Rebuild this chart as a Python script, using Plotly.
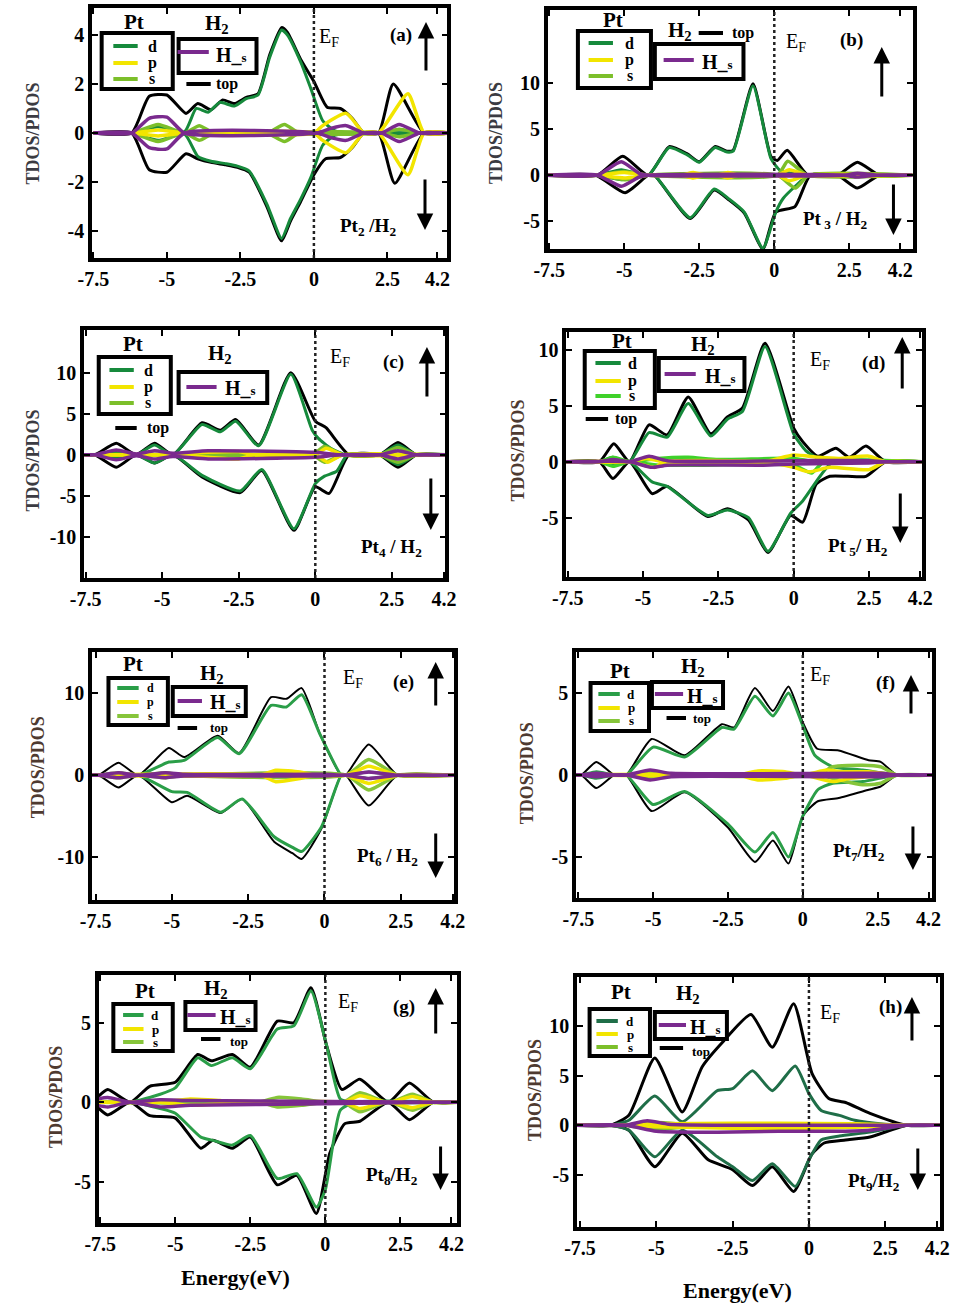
import plotly.graph_objects as go

W, H = 959, 1310
FONT = "Liberation Serif"

# ---------------- data: [energy (eV), DOS] knots ----------------
# panel (a) Pt2/H2
a_top_up = [[-7.5,0],[-6.2,0],[-5.6,1.5],[-5.0,1.55],[-4.35,0.8],[-3.95,1.2],[-3.5,0.95],[-3.1,1.35],[-2.7,1.2],[-2.3,1.45],[-1.9,1.6],[-1.5,3.2],[-1.1,4.3],[-0.9,4.1],[-0.45,3.0],[0.0,2.1],[0.45,1.05],[0.9,1.0],[1.3,0.6],[1.7,0],[2.2,0],[2.7,2.0],[3.75,0],[4.6,0]]
a_top_dn = [[-7.5,0],[-6.2,0],[-5.6,-1.5],[-5.0,-1.6],[-4.35,-0.85],[-3.95,-1.05],[-3.5,-1.2],[-3.0,-1.3],[-2.6,-1.4],[-2.2,-1.6],[-1.6,-3.0],[-1.1,-4.4],[-0.8,-3.6],[-0.45,-2.8],[0.0,-1.7],[0.4,-1.05],[0.9,-1.0],[1.3,-0.6],[1.7,0],[2.2,0],[2.75,-2.05],[3.75,0],[4.6,0]]
a_d_up = [[-7.5,0],[-6.2,0],[-5.3,0.25],[-4.4,0.05],[-4.0,1.0],[-3.6,0.85],[-3.2,1.25],[-2.7,1.1],[-2.3,1.4],[-1.9,1.55],[-1.5,3.1],[-1.1,4.2],[-0.9,4.0],[-0.45,2.9],[-0.1,1.8],[0.3,0.5],[0.7,0.1],[1.2,0],[4.6,0]]
a_d_dn = [[-7.5,0],[-6.2,0],[-5.3,-0.3],[-4.4,-0.05],[-3.95,-0.95],[-3.5,-1.15],[-3.0,-1.25],[-2.6,-1.35],[-2.2,-1.55],[-1.6,-2.9],[-1.1,-4.3],[-0.8,-3.5],[-0.45,-2.7],[-0.1,-1.8],[0.3,-0.5],[0.7,-0.1],[1.2,0],[4.6,0]]
a_p_up = [[-7.5,0],[-6.2,0],[-5.3,0.12],[-4.4,0],[0.0,0],[0.3,0.3],[1.1,0.8],[1.7,0],[2.2,0],[3.2,1.6],[3.75,0],[4.6,0]]
a_p_dn = [[-7.5,0],[-6.2,0],[-5.3,-0.12],[-4.4,0],[0.0,0],[0.3,-0.3],[1.1,-0.8],[1.7,0],[2.2,0],[3.2,-1.7],[3.75,0],[4.6,0]]
a_s_up = [[-7.5,0],[-6.2,0],[-5.3,0.35],[-4.4,0],[-3.9,0.3],[-3.4,0],[-1.6,0],[-1.0,0.35],[-0.5,0],[2.3,0],[2.9,0.15],[3.6,0],[4.6,0]]
a_s_dn = [[-7.5,0],[-6.2,0],[-5.3,-0.35],[-4.4,0],[-3.9,-0.3],[-3.4,0],[-1.6,0],[-1.0,-0.35],[-0.5,0],[2.3,0],[2.9,-0.15],[3.6,0],[4.6,0]]
a_h_up = [[-7.5,0],[-6.2,0],[-5.6,0.6],[-5.0,0.65],[-4.4,0],[0.1,0],[0.6,0.2],[1.1,0.3],[1.7,0],[2.3,0],[2.9,0.35],[3.6,0],[4.6,0]]
a_h_dn = [[-7.5,0],[-6.2,0],[-5.6,-0.6],[-5.0,-0.65],[-4.4,0],[0.1,0],[0.6,-0.2],[1.1,-0.3],[1.7,0],[2.3,0],[2.9,-0.35],[3.6,0],[4.6,0]]

# panel (b) Pt3/H2
b_top_up = [[-7.6,0],[-5.9,0],[-5.05,2.05],[-4.2,0],[-3.5,3.1],[-2.9,2.3],[-2.5,1.45],[-1.97,3.1],[-1.58,2.6],[-1.37,2.7],[-0.71,9.9],[-0.11,2.0],[0.1,1.6],[0.43,2.7],[1.12,0],[2.1,0],[2.77,1.4],[3.5,0],[4.6,0]]
b_top_dn = [[-7.6,0],[-5.95,0],[-4.97,-1.9],[-4.2,0],[-4.0,0],[-2.8,-4.7],[-2.0,-1.6],[-1.5,-2.7],[-1.0,-4.1],[-0.38,-8.0],[0.05,-4.0],[0.69,-3.4],[1.2,0],[2.1,0],[2.77,-1.4],[3.5,0],[4.6,0]]
b_d_up = [[-7.6,0],[-5.9,0],[-5.1,0.6],[-4.2,0],[-3.5,3.0],[-2.9,2.2],[-2.5,1.4],[-1.97,3.0],[-1.58,2.5],[-1.37,2.6],[-0.71,9.7],[-0.11,1.8],[0.2,0.5],[0.6,0.2],[1.1,0],[4.6,0]]
b_d_dn = [[-7.6,0],[-5.9,0],[-5.1,-0.5],[-4.2,0],[-4.0,0],[-2.8,-4.6],[-2.0,-1.5],[-1.5,-2.6],[-1.0,-4.0],[-0.38,-7.9],[0.05,-4.0],[0.3,-2.5],[0.7,-1.2],[1.15,0],[4.6,0]]
b_p_up = [[-7.6,0],[-5.9,0],[-5.0,0.3],[-4.2,0],[-3.1,0],[-2.7,0.3],[-2.3,0],[-1.9,0],[-1.55,0.3],[-1.2,0],[0.1,0],[0.5,0.6],[1.1,0],[4.6,0]]
b_p_dn = [[-7.6,0],[-5.9,0],[-5.0,-0.3],[-4.2,0],[-3.1,0],[-2.7,-0.3],[-2.3,0],[-1.9,0],[-1.55,-0.3],[-1.2,0],[0.1,0],[0.5,-0.6],[1.1,0],[4.6,0]]
b_s_up = [[-7.6,0],[-5.9,0],[-5.0,0.4],[-4.2,0],[0.1,0],[0.45,1.5],[1.1,0],[4.6,0]]
b_s_dn = [[-7.6,0],[-5.9,0],[-5.0,-0.5],[-4.2,0],[0.1,0],[0.7,-1.4],[1.15,0],[4.6,0]]
b_h_up = [[-7.6,0],[-5.9,0],[-5.1,1.45],[-4.5,0.2],[-4.2,0],[2.3,0],[2.77,0.2],[3.4,0],[4.6,0]]
b_h_dn = [[-7.6,0],[-5.9,0],[-5.1,-1.2],[-4.5,-0.2],[-4.2,0],[2.3,0],[2.77,-0.2],[3.4,0],[4.6,0]]

# panel (c) Pt4/H2
c_top_up = [[-7.6,0],[-7.2,0],[-6.5,1.4],[-5.85,0],[-5.25,1.4],[-4.65,0],[-3.7,3.9],[-3.1,3.0],[-2.6,4.3],[-1.85,1.2],[-0.8,10.0],[0.0,4.1],[0.35,3.3],[1.1,0],[2.1,0],[2.7,1.5],[3.3,0],[4.3,0]]
c_top_dn = [[-7.6,0],[-7.2,0],[-6.5,-1.5],[-5.85,0],[-5.25,-1.0],[-4.65,0],[-3.7,-2.7],[-2.45,-4.6],[-1.75,-1.9],[-0.7,-9.2],[0.0,-3.9],[0.45,-4.7],[1.1,0],[2.1,0],[2.7,-1.5],[3.3,0],[4.3,0]]
c_d_up = [[-7.6,0],[-7.2,0],[-6.5,0.3],[-5.85,0],[-5.25,1.2],[-4.65,0],[-3.7,3.7],[-3.1,2.8],[-2.6,4.1],[-1.85,1.1],[-0.8,9.8],[-0.1,3.0],[0.1,2.0],[0.5,0.8],[1.0,0],[2.1,0],[2.7,1.2],[3.3,0],[4.3,0]]
c_d_dn = [[-7.6,0],[-7.2,0],[-6.5,-0.3],[-5.85,0],[-5.25,-1.0],[-4.65,0],[-3.7,-2.5],[-2.45,-4.4],[-1.75,-1.8],[-0.7,-9.0],[0.0,-3.5],[0.3,-2.6],[0.7,-2.0],[1.05,0],[2.1,0],[2.7,-1.2],[3.3,0],[4.3,0]]
c_p_up = [[-7.6,0],[-4.6,0],[-3.5,0.3],[-2.5,0.4],[-2.0,0],[0.0,0],[0.35,0.8],[0.9,0],[4.3,0]]
c_p_dn = [[-7.6,0],[-4.6,0],[-3.5,-0.3],[-2.5,-0.5],[-2.0,0],[0.0,0],[0.4,-0.9],[0.9,0],[4.3,0]]
c_s_up = [[-7.6,0],[-1.5,0],[-0.8,0.3],[-0.1,0],[0.3,1.0],[0.9,0],[2.1,0],[2.7,0.9],[3.3,0],[4.3,0]]
c_s_dn = [[-7.6,0],[-1.5,0],[-0.8,-0.3],[-0.1,0],[0.3,-0.9],[0.9,0],[2.1,0],[2.7,-0.9],[3.3,0],[4.3,0]]
c_h_up = [[-7.6,0],[-7.2,0],[-6.5,0.6],[-5.85,0.1],[-5.25,0.5],[-4.65,0.2],[-3.5,0.5],[-1.0,0.4],[0.0,0.3],[0.8,0],[2.1,0],[2.7,0.5],[3.3,0],[4.3,0]]
c_h_dn = [[-7.6,0],[-7.2,0],[-6.5,-0.6],[-5.85,-0.1],[-5.25,-0.5],[-4.65,-0.2],[-3.5,-0.5],[-1.0,-0.4],[0.0,-0.3],[0.8,0],[2.1,0],[2.7,-0.5],[3.3,0],[4.3,0]]

# panel (d) Pt5/H2
d_top_up = [[-7.6,0],[-6.45,0],[-5.97,1.6],[-5.45,0],[-4.8,3.3],[-4.2,2.4],[-3.5,5.8],[-2.75,2.5],[-2.2,4.0],[-1.7,4.8],[-0.95,10.6],[0.0,3.0],[0.3,1.8],[0.8,0.5],[1.4,1.2],[1.85,0.4],[2.4,1.4],[3.05,0],[4.3,0]]
d_top_dn = [[-7.6,0],[-6.45,0],[-6.0,-1.5],[-5.45,0],[-4.7,-2.85],[-4.2,-2.2],[-2.85,-4.9],[-2.2,-4.2],[-1.5,-5.2],[-0.85,-8.1],[-0.1,-4.8],[0.3,-5.4],[0.75,-2.0],[1.2,-1.3],[1.8,-1.3],[2.4,-1.3],[3.05,0],[4.3,0]]
d_d_up = [[-7.6,0],[-6.45,0],[-6.0,0.4],[-5.45,0],[-4.8,2.6],[-4.2,2.2],[-3.5,5.2],[-2.75,2.3],[-2.2,3.8],[-1.7,4.5],[-0.95,10.3],[0.0,2.5],[0.4,1.0],[0.9,0.2],[1.5,0],[4.3,0]]
d_d_dn = [[-7.6,0],[-6.45,0],[-6.0,-0.3],[-5.45,0],[-4.7,-1.8],[-4.2,-2.2],[-2.85,-4.8],[-2.2,-4.3],[-1.5,-5.0],[-0.85,-8.0],[-0.1,-4.6],[0.3,-3.5],[0.9,-1.2],[1.3,0],[4.3,0]]
d_p_up = [[-7.6,0],[-5.45,0],[-4.9,0.3],[-4.3,0],[-1.0,0],[0.0,0.6],[0.8,0.4],[1.5,0.3],[2.5,0.5],[3.05,0],[4.3,0]]
d_p_dn = [[-7.6,0],[-5.45,0],[-4.6,-0.5],[-4.3,0],[-1.0,0],[0.0,-0.5],[0.5,-0.9],[1.2,-0.5],[2.5,-0.7],[3.05,0],[4.3,0]]
d_s_up = [[-7.6,0],[-6.45,0],[-6.0,0.4],[-5.45,0],[-4.5,0.3],[-3.5,0.4],[-2.5,0.2],[0.0,0.3],[0.7,0],[4.3,0]]
d_s_dn = [[-7.6,0],[-6.45,0],[-6.0,-0.4],[-5.45,0],[-4.5,-0.3],[-3.0,-0.3],[0.0,-0.3],[0.6,-1.0],[1.0,0],[4.3,0]]
d_h_up = [[-7.6,0],[-6.45,0],[-6.0,0.2],[-5.45,0],[-4.8,0.5],[-4.2,0.1],[0.0,0.1],[2.5,0.1],[3.05,0],[4.3,0]]
d_h_dn = [[-7.6,0],[-5.45,0],[-4.7,-0.5],[-4.2,-0.3],[-1.0,-0.3],[0.0,-0.2],[2.5,-0.1],[3.05,0],[4.3,0]]

# panel (e) Pt6/H2
e_top_up = [[-7.7,0],[-7.4,0],[-6.75,1.5],[-6.1,0],[-5.1,3.3],[-4.6,2.2],[-3.5,4.8],[-2.8,2.7],[-1.75,9.5],[-1.25,9.3],[-0.75,10.6],[-0.15,5.0],[0.55,0],[0.7,0],[1.45,3.75],[2.4,0],[4.3,0]]
e_top_dn = [[-7.7,0],[-7.4,0],[-6.75,-1.5],[-6.1,0],[-5.0,-3.3],[-4.5,-2.5],[-3.4,-4.6],[-2.7,-2.9],[-1.65,-8.1],[-1.05,-9.5],[-0.75,-10.2],[-0.1,-6.5],[0.55,0],[0.7,0],[1.45,-3.7],[2.4,0],[4.3,0]]
e_d_up = [[-7.7,0],[-6.1,0],[-5.1,1.6],[-4.6,1.8],[-3.5,4.6],[-2.8,2.6],[-1.75,8.5],[-1.25,8.3],[-0.75,9.8],[-0.15,5.0],[0.55,0],[0.7,0],[1.45,0.4],[2.4,0],[4.3,0]]
e_d_dn = [[-7.7,0],[-6.1,0],[-5.0,-2.0],[-4.5,-2.1],[-3.4,-4.5],[-2.7,-2.9],[-1.65,-7.5],[-1.05,-8.8],[-0.75,-9.3],[-0.1,-6.3],[0.55,0],[0.7,0],[1.45,-0.4],[2.4,0],[4.3,0]]
e_p_up = [[-7.7,0],[-2.1,0],[-1.6,0.6],[-0.8,0.4],[-0.3,0],[0.7,0],[1.45,1.1],[2.4,0],[4.3,0]]
e_p_dn = [[-7.7,0],[-2.1,0],[-1.6,-0.8],[-0.8,-0.4],[-0.3,0],[0.7,0],[1.45,-1.0],[2.4,0],[4.3,0]]
e_s_up = [[-7.7,0],[-7.4,0],[-6.75,0.3],[-6.1,0],[-5.2,0.3],[-4.6,0],[0.7,0],[1.45,1.9],[2.4,0],[4.3,0]]
e_s_dn = [[-7.7,0],[-7.4,0],[-6.75,-0.3],[-6.1,0],[-5.2,-0.3],[-4.6,0],[0.7,0],[1.45,-1.8],[2.4,0],[4.3,0]]
e_h_up = [[-7.7,0],[-7.4,0],[-6.75,0.3],[-6.1,0],[-5.2,0.3],[-4.6,0.1],[0.0,0.1],[0.7,0],[1.45,0.4],[2.4,0],[4.3,0]]
e_h_dn = [[-7.7,0],[-7.4,0],[-6.75,-0.3],[-6.1,0],[-5.2,-0.3],[-4.6,-0.1],[0.0,-0.1],[0.7,0],[1.45,-0.4],[2.4,0],[4.3,0]]

# panel (f) Pt7/H2
f_top_up = [[-7.65,0],[-7.4,0],[-6.9,0.8],[-6.3,0],[-5.9,0],[-5.05,2.2],[-3.95,1.2],[-2.7,3.1],[-2.3,2.9],[-1.6,5.3],[-1.0,3.9],[-0.48,5.4],[0.0,3.2],[0.48,1.6],[1.2,1.5],[2.2,0.9],[2.6,0.8],[3.15,0],[4.4,0]]
f_top_dn = [[-7.65,0],[-7.4,0],[-6.9,-0.8],[-6.3,0],[-5.9,0],[-5.05,-2.2],[-3.95,-1.05],[-2.5,-3.2],[-1.6,-5.3],[-1.0,-4.0],[-0.48,-5.4],[0.0,-2.5],[0.5,-1.6],[1.2,-1.4],[2.2,-0.9],[2.6,-0.7],[3.15,0],[4.4,0]]
f_d_up = [[-7.65,0],[-7.4,0],[-6.9,0.2],[-6.3,0],[-5.9,0],[-5.0,1.7],[-3.95,1.1],[-2.7,2.9],[-2.3,2.8],[-1.6,4.8],[-1.0,3.6],[-0.48,5.0],[0.0,3.0],[0.4,1.2],[1.0,0.5],[2.0,0.3],[3.15,0],[4.4,0]]
f_d_dn = [[-7.65,0],[-7.4,0],[-6.9,-0.2],[-6.3,0],[-5.9,0],[-5.0,-1.8],[-3.95,-1.0],[-2.5,-3.0],[-1.6,-4.7],[-1.0,-3.5],[-0.48,-5.0],[0.0,-2.5],[0.5,-0.9],[1.0,-0.5],[2.0,-0.4],[3.15,0],[4.4,0]]
f_p_up = [[-7.65,0],[-2.2,0],[-1.5,0.25],[-0.6,0.2],[0.0,0],[0.8,0.3],[1.3,0.2],[2.2,0.2],[3.15,0],[4.4,0]]
f_p_dn = [[-7.65,0],[-2.2,0],[-1.5,-0.3],[-0.6,-0.2],[0.0,0],[1.0,-0.4],[1.6,-0.2],[3.15,0],[4.4,0]]
f_s_up = [[-7.65,0],[-5.8,0],[-5.1,0.2],[-4.3,0],[0.5,0],[1.0,0.5],[2.0,0.6],[2.6,0.5],[3.15,0],[4.4,0]]
f_s_dn = [[-7.65,0],[-5.8,0],[-5.1,-0.2],[-4.3,0],[0.5,0],[1.2,-0.3],[2.0,-0.6],[2.6,-0.5],[3.15,0],[4.4,0]]
f_h_up = [[-7.65,0],[-7.4,0],[-6.9,0.1],[-6.3,0],[-5.9,0],[-5.1,0.3],[-4.4,0.1],[2.6,0.1],[3.15,0],[4.4,0]]
f_h_dn = [[-7.65,0],[-7.4,0],[-6.9,-0.1],[-6.3,0],[-5.9,0],[-5.1,-0.3],[-4.4,-0.1],[2.6,-0.1],[3.15,0],[4.4,0]]

# panel (g) Pt8/H2
g_top_up = [[-7.6,0.3],[-7.25,0.8],[-6.5,0],[-5.85,1.0],[-5.0,1.25],[-4.25,3.0],[-3.8,2.6],[-3.1,3.0],[-2.5,2.2],[-1.6,5.1],[-1.05,5.0],[-0.48,7.2],[0.05,3.5],[0.55,0.8],[1.15,1.45],[2.1,0],[2.8,1.2],[3.6,0],[4.45,0]]
g_top_dn = [[-7.6,-0.3],[-7.25,-0.8],[-6.5,0],[-5.85,-0.85],[-5.0,-1.0],[-4.15,-2.9],[-3.75,-2.4],[-3.1,-2.9],[-2.5,-2.2],[-1.6,-5.2],[-0.95,-4.6],[-0.3,-7.0],[0.15,-3.2],[0.65,-1.35],[1.15,-1.2],[2.1,0],[2.8,-1.1],[3.6,0],[4.45,0]]
g_d_up = [[-7.6,0],[-6.5,0],[-5.5,0.5],[-5.0,0.9],[-4.25,2.8],[-3.8,2.3],[-3.1,2.8],[-2.5,2.1],[-1.6,4.6],[-1.05,4.8],[-0.48,7.0],[0.05,3.5],[0.5,0.2],[1.0,0],[4.45,0]]
g_d_dn = [[-7.6,0],[-6.5,0],[-5.5,-0.4],[-5.0,-0.7],[-4.15,-2.2],[-3.75,-2.4],[-3.1,-2.7],[-2.5,-2.1],[-1.6,-4.8],[-0.95,-4.5],[-0.3,-6.6],[0.0,-5.5],[0.5,-0.5],[1.0,0],[4.45,0]]
g_p_up = [[-7.6,0],[-5.5,0],[-4.5,0.2],[-3.5,0.1],[0.6,0],[1.15,0.4],[2.0,0],[2.2,0],[2.9,0.35],[3.6,0],[4.45,0]]
g_p_dn = [[-7.6,0],[-5.5,0],[-4.5,-0.2],[-3.5,-0.1],[0.6,0],[1.15,-0.4],[2.0,0],[2.2,0],[2.9,-0.35],[3.6,0],[4.45,0]]
g_s_up = [[-7.6,0],[-2.2,0],[-1.6,0.3],[-0.8,0.2],[0.0,0],[0.6,0],[1.15,0.6],[2.0,0],[2.2,0],[2.9,0.5],[3.6,0],[4.45,0]]
g_s_dn = [[-7.6,0],[-2.2,0],[-1.6,-0.3],[-0.8,-0.2],[0.0,0],[0.6,0],[1.15,-0.6],[2.0,0],[2.2,0],[2.9,-0.5],[3.6,0],[4.45,0]]
g_h_up = [[-7.6,0.2],[-7.25,0.3],[-6.5,0],[-5.5,0.15],[-4.5,0.1],[0.0,0.05],[3.6,0],[4.45,0]]
g_h_dn = [[-7.6,-0.2],[-7.25,-0.3],[-6.5,0],[-5.5,-0.3],[-4.5,-0.2],[0.0,-0.1],[3.6,0],[4.45,0]]

# panel (h) Pt9/H2
h_top_up = [[-7.65,0],[-6.5,0],[-5.9,1.0],[-5.05,6.8],[-4.15,1.35],[-3.5,5.9],[-2.8,8.5],[-1.9,11.2],[-1.2,7.9],[-0.5,12.3],[0.1,5.25],[0.65,2.7],[1.2,2.3],[2.0,1.2],[3.2,0],[4.4,0]]
h_top_dn = [[-7.65,0],[-6.5,0],[-5.9,-0.5],[-5.05,-4.2],[-4.15,-0.8],[-3.3,-3.5],[-2.5,-4.5],[-1.85,-6.1],[-1.2,-4.2],[-0.5,-6.7],[0.1,-2.9],[0.5,-1.8],[1.2,-1.5],[2.0,-1.2],[3.2,0],[4.4,0]]
h_d_up = [[-7.65,0],[-6.5,0],[-5.9,0.5],[-5.05,2.95],[-4.15,0.35],[-3.0,3.5],[-2.5,3.7],[-1.85,5.5],[-1.2,3.5],[-0.45,6.0],[0.0,3.2],[0.4,1.5],[1.0,1.0],[1.5,0.5],[2.5,0.1],[3.2,0],[4.4,0]]
h_d_dn = [[-7.65,0],[-6.5,0],[-5.9,-0.5],[-5.05,-3.2],[-4.15,-0.5],[-3.0,-3.2],[-2.5,-4.2],[-1.85,-5.6],[-1.2,-3.9],[-0.45,-6.2],[0.0,-3.5],[0.4,-1.5],[1.0,-1.1],[2.0,-0.7],[3.2,0],[4.4,0]]
h_p_up = [[-7.65,0],[-6.0,0],[-5.0,0.15],[-2.5,0.2],[-1.0,0.2],[1.5,0.15],[3.2,0],[4.4,0]]
h_p_dn = [[-7.65,0],[-6.0,0],[-5.0,-0.15],[-2.5,-0.3],[0.0,-0.3],[1.5,-0.2],[3.2,0],[4.4,0]]
h_s_up = [[-7.65,0],[-6.0,0],[-5.2,0.3],[-4.0,0.1],[3.2,0],[4.4,0]]
h_s_dn = [[-7.65,0],[-6.0,0],[-5.2,-0.4],[-4.0,-0.2],[3.2,0],[4.4,0]]
h_h_up = [[-7.65,0],[-6.0,0],[-5.3,0.45],[-4.6,0.1],[-3.0,0.0],[3.2,0],[4.4,0]]
h_h_dn = [[-7.65,0],[-6.0,0],[-5.0,-0.6],[-3.0,-0.7],[-1.0,-0.6],[1.0,-0.6],[2.0,-0.5],[3.2,0],[4.4,0]]

X_TICKS = [-7.5, -5, -2.5, 0, 2.5, 4.2]
X_TICK_TEXT = ["-7.5", "-5", "-2.5", "0", "2.5", "4.2"]
Y_TICKS_A = [-4, -2, 0, 2, 4]
Y_TICKS_B = [-5, 0, 5, 10]
Y_TICKS_C = [-10, -5, 0, 5, 10]
Y_TICKS_D = [-5, 0, 5, 10]
Y_TICKS_E = [-10, 0, 10]
Y_TICKS_F = [-5, 0, 5]
Y_TICKS_G = [-5, 0, 5]
Y_TICKS_H = [-5, 0, 5, 10]

# ---------------- figure ----------------
fig = go.Figure()


def PX(x):
    return x / W


def PY(y):
    return 1 - y / H


def T(text, x, y, size=18, bold=True, color="black", angle=0, xanchor="center"):
    fig.add_annotation(text=text, x=PX(x), y=PY(y), xref="paper", yref="paper",
                       showarrow=False, xanchor=xanchor, yanchor="middle", textangle=angle,
                       font=dict(family=FONT, size=size, color=color,
                                 weight="bold" if bold else "normal"))


def LINE(x0, y0, x1, y1, color="black", width=3, dash="solid"):
    fig.add_shape(type="line", xref="paper", yref="paper", x0=PX(x0), y0=PY(y0),
                  x1=PX(x1), y1=PY(y1), line=dict(color=color, width=width, dash=dash))


def BOX(x0, y0, x1, y1, width=4):
    fig.add_shape(type="rect", xref="paper", yref="paper", x0=PX(x0), y0=PY(y1),
                  x1=PX(x1), y1=PY(y0), line=dict(color="black", width=width),
                  fillcolor="rgba(0,0,0,0)")


def ARROW(x, yh, yt, width=3):
    fig.add_annotation(x=PX(x), y=PY(yh), xref="paper", yref="paper", text="",
                       showarrow=True, ax=0, ay=yt - yh, arrowhead=2, arrowsize=1.1,
                       arrowwidth=width, arrowcolor="black")


PURPLE = "#7a2a8e"
YELLOW = "#f2e500"

panels = [
    dict(L="a", frame=(80, 8, 445, 258), xr=[-7.55, 4.54], yr=[-5.1, 5.1], yt=Y_TICKS_A,
         series=[a_top_up, a_top_dn, a_d_up, a_d_dn, a_p_up, a_p_dn, a_s_up, a_s_dn, a_h_up, a_h_dn],
         dcol="#168a3c", scol="#7cbf2a", tw=3,
         pt=(123, 22), ptbox=(90, 33, 163, 89), lx=(102, 127), ly=(46, 63, 79), lblx=142, lsz=16,
         h2=(208, 24), hbox=(169, 39, 249, 73), hl=(168, 200, 52), hlbl=(223, 55),
         top=(177, 202, 84), toplbl=(219, 84),
         ef=(323, 38), lab=(397, 35), up=(423, 22, 72), dn=(422, 230, 178), sys=(363, 227),
         sysfmt="Pt<sub>2</sub> /H<sub>2</sub>", ytitle=(20, 133), ycol="#3b3b42"),
    dict(L="b", frame=(548, 10, 923, 249), xr=[-7.55, 4.62], yr=[-8.0, 17.9], yt=Y_TICKS_B,
         series=[b_top_up, b_top_dn, b_d_up, b_d_dn, b_p_up, b_p_dn, b_s_up, b_s_dn, b_h_up, b_h_dn],
         dcol="#168a3c", scol="#7cbf2a", tw=3,
         pt=(615, 20), ptbox=(579, 31, 654, 88), lx=(590, 615), ly=(43, 60, 76), lblx=632, lsz=16,
         h2=(684, 31), hbox=(658, 44, 749, 79), hl=(667, 698, 60), hlbl=(722, 62),
         top=(703, 728, 33), toplbl=(748, 33),
         ef=(803, 42), lab=(860, 40), up=(891, 47, 98), dn=(903, 235, 183), sys=(843, 220),
         sysfmt="Pt<sub> 3</sub> / H<sub>2</sub>", ytitle=(495, 133), ycol="#3b3b42"),
    dict(L="c", frame=(72, 330, 443, 578), xr=[-7.55, 4.25], yr=[-15.0, 15.2], yt=Y_TICKS_C,
         series=[c_top_up, c_top_dn, c_d_up, c_d_dn, c_p_up, c_p_dn, c_s_up, c_s_dn, c_h_up, c_h_dn],
         dcol="#168a3c", scol="#7cbf2a", tw=3,
         pt=(122, 344), ptbox=(87, 357, 161, 414), lx=(98, 123), ly=(370, 387, 403), lblx=138, lsz=16,
         h2=(212, 354), hbox=(169, 372, 260, 403), hl=(177, 208, 387), hlbl=(233, 388),
         top=(104, 126, 428), toplbl=(148, 428),
         ef=(335, 357), lab=(390, 362), up=(424, 347, 398), dn=(428, 530, 477), sys=(388, 548),
         sysfmt="Pt<sub>4</sub> / H<sub>2</sub>", ytitle=(20, 460), ycol="#3b3b42"),
    dict(L="d", frame=(567, 332, 932, 577), xr=[-7.55, 4.25], yr=[-10.3, 11.6], yt=Y_TICKS_D,
         series=[d_top_up, d_top_dn, d_d_up, d_d_dn, d_p_up, d_p_dn, d_s_up, d_s_dn, d_h_up, d_h_dn],
         dcol="#168a3c", scol="#3fd12a", tw=3,
         pt=(624, 341), ptbox=(586, 351, 658, 408), lx=(597, 623), ly=(363, 381, 396), lblx=635, lsz=16,
         h2=(707, 345), hbox=(662, 358, 750, 391), hl=(668, 700, 374), hlbl=(725, 376),
         top=(587, 610, 419), toplbl=(628, 419),
         ef=(828, 360), lab=(883, 363), up=(912, 337, 390), dn=(910, 543, 492), sys=(867, 547),
         sysfmt="Pt<sub> 5</sub>/ H<sub>2</sub>", ytitle=(518, 450), ycol="#4e3a30"),
    dict(L="e", frame=(80, 652, 452, 900), xr=[-7.62, 4.25], yr=[-15.2, 15.0], yt=Y_TICKS_E,
         series=[e_top_up, e_top_dn, e_d_up, e_d_dn, e_p_up, e_p_dn, e_s_up, e_s_dn, e_h_up, e_h_dn],
         dcol="#2a9e48", scol="#86c53a", tw=2,
         pt=(122, 664), ptbox=(97, 678, 158, 725), lx=(106, 128), ly=(688, 702, 716), lblx=140, lsz=12,
         h2=(203, 674), hbox=(163, 687, 238, 716), hl=(168, 193, 701), hlbl=(217, 702),
         top=(168, 188, 728), toplbl=(211, 727),
         ef=(348, 678), lab=(400, 682), up=(433, 662, 707), dn=(433, 878, 832), sys=(383, 857),
         sysfmt="Pt<sub>6</sub> / H<sub>2</sub>", ytitle=(25, 767), ycol="#4e3a30"),
    dict(L="f", frame=(577, 652, 943, 898), xr=[-7.58, 4.33], yr=[-7.5, 7.5], yt=Y_TICKS_F,
         series=[f_top_up, f_top_dn, f_d_up, f_d_dn, f_p_up, f_p_dn, f_s_up, f_s_dn, f_h_up, f_h_dn],
         dcol="#2a9e48", scol="#86c53a", tw=2,
         pt=(622, 671), ptbox=(592, 683, 652, 731), lx=(600, 622), ly=(694, 708, 721), lblx=634, lsz=13,
         h2=(697, 667), hbox=(655, 682, 728, 708), hl=(658, 687, 694), hlbl=(707, 696),
         top=(670, 690, 718), toplbl=(706, 718),
         ef=(828, 675), lab=(895, 683), up=(921, 675, 715), dn=(923, 870, 825), sys=(868, 852),
         sysfmt="Pt<sub>7</sub>/H<sub>2</sub>", ytitle=(527, 773), ycol="#4e3a30"),
    dict(L="g", frame=(87, 975, 455, 1223), xr=[-7.55, 4.39], yr=[-7.6, 8.0], yt=Y_TICKS_G,
         series=[g_top_up, g_top_dn, g_d_up, g_d_dn, g_p_up, g_p_dn, g_s_up, g_s_dn, g_h_up, g_h_dn],
         dcol="#2a9e48", scol="#86c53a", tw=3,
         pt=(135, 991), ptbox=(102, 1004, 163, 1051), lx=(112, 133), ly=(1015, 1029, 1042), lblx=145, lsz=13,
         h2=(207, 989), hbox=(176, 1002, 248, 1030), hl=(178, 207, 1015), hlbl=(227, 1017),
         top=(192, 212, 1039), toplbl=(231, 1041),
         ef=(343, 1002), lab=(400, 1007), up=(433, 988, 1035), dn=(438, 1190, 1145), sys=(388, 1176),
         sysfmt="Pt<sub>8</sub>/H<sub>2</sub>", ytitle=(43, 1097), ycol="#4e3a30"),
    dict(L="h", frame=(578, 977, 951, 1227), xr=[-7.6, 4.3], yr=[-10.3, 15.0], yt=Y_TICKS_H,
         series=[h_top_up, h_top_dn, h_d_up, h_d_dn, h_p_up, h_p_dn, h_s_up, h_s_dn, h_h_up, h_h_dn],
         dcol="#1f6e48", scol="#7cbf2a", tw=3,
         pt=(623, 992), ptbox=(591, 1009, 653, 1056), lx=(598, 620), ly=(1021, 1034, 1047), lblx=633, lsz=13,
         h2=(692, 994), hbox=(658, 1012, 732, 1039), hl=(662, 690, 1025), hlbl=(710, 1027),
         top=(663, 687, 1048), toplbl=(705, 1051),
         ef=(838, 1013), lab=(900, 1007), up=(922, 997, 1042), dn=(928, 1190, 1147), sys=(883, 1182),
         sysfmt="Pt<sub>9</sub>/H<sub>2</sub>", ytitle=(535, 1090), ycol="#4e3a30"),
]

layout_axes = {}
for i, p in enumerate(panels):
    k = "" if i == 0 else str(i + 1)
    x0, y0, x1, y1 = p["frame"]
    tick_font = dict(family=FONT, size=20, color="black", weight="bold")
    layout_axes["xaxis" + k] = dict(
        domain=[PX(x0), PX(x1)], range=p["xr"], anchor="y" + k,
        tickmode="array", tickvals=X_TICKS, ticktext=X_TICK_TEXT,
        ticks="inside", ticklen=6, tickwidth=2, tickcolor="black", mirror="allticks",
        showline=True, linewidth=3.5, linecolor="black", showgrid=False, zeroline=False,
        tickfont=tick_font, fixedrange=True)
    layout_axes["yaxis" + k] = dict(
        domain=[PY(y1), PY(y0)], range=p["yr"], anchor="x" + k,
        tickmode="array", tickvals=p["yt"], ticktext=[str(v) for v in p["yt"]],
        ticks="inside", ticklen=6, tickwidth=2, tickcolor="black", mirror="allticks",
        showline=True, linewidth=3.5, linecolor="black", showgrid=False, zeroline=False,
        tickfont=tick_font, fixedrange=True)

    top_up, top_dn, d_up, d_dn, p_up, p_dn, s_up, s_dn, h_up, h_dn = p["series"]
    styles = [
        (top_up, "black", p["tw"]), (top_dn, "black", p["tw"]),
        (d_up, p["dcol"], 3), (d_dn, p["dcol"], 3),
        (s_up, p["scol"], 3.5), (s_dn, p["scol"], 3.5),
        (p_up, YELLOW, 3.5), (p_dn, YELLOW, 3.5),
        (h_up, PURPLE, 3.5), (h_dn, PURPLE, 3.5),
    ]
    for pts, col, wd in styles:
        fig.add_trace(go.Scatter(
            x=[q[0] for q in pts], y=[q[1] for q in pts], mode="lines",
            line=dict(color=col, width=wd, shape="spline", smoothing=0.55),
            xaxis="x" + k, yaxis="y" + k, showlegend=False, hoverinfo="skip"))

    # Fermi level
    fig.add_shape(type="line", xref="x" + k, yref="y" + k + " domain", x0=0, x1=0, y0=0, y1=1,
                  line=dict(color="#222", width=2.5, dash="dot"))

    # legend blocks
    T("Pt", p["pt"][0], p["pt"][1], size=21)
    BOX(*p["ptbox"])
    lx0, lx1 = p["lx"]
    for yy, col, lab in zip(p["ly"], [p["dcol"], YELLOW, p["scol"]], ["d", "p", "s"]):
        LINE(lx0, yy, lx1, yy, color=col, width=4)
        T(lab, p["lblx"], yy, size=p["lsz"])
    T("H<sub>2</sub>", p["h2"][0], p["h2"][1], size=21)
    BOX(*p["hbox"])
    LINE(p["hl"][0], p["hl"][2], p["hl"][1], p["hl"][2], color=PURPLE, width=4)
    T("H_<span style='font-size:13px'>s</span>", p["hlbl"][0], p["hlbl"][1], size=20)
    LINE(p["top"][0], p["top"][2], p["top"][1], p["top"][2], color="black", width=4)
    T("top", p["toplbl"][0], p["toplbl"][1], size=max(p["lsz"], 13))

    # panel texts
    T("E<sub>F</sub>", p["ef"][0], p["ef"][1], size=20, bold=False)
    T("(" + p["L"] + ")", p["lab"][0], p["lab"][1], size=19)
    ARROW(p["up"][0], p["up"][1], p["up"][2])
    ARROW(p["dn"][0], p["dn"][1], p["dn"][2])
    T(p["sysfmt"], p["sys"][0], p["sys"][1], size=19)
    T("TDOS/PDOS", p["ytitle"][0], p["ytitle"][1], size=18, color=p["ycol"], angle=-90)

T("Energy(eV)", 227, 1277, size=22)
T("Energy(eV)", 743, 1290, size=22)

fig.update_layout(width=W, height=H, margin=dict(l=0, r=0, t=0, b=0),
                  paper_bgcolor="white", plot_bgcolor="white", showlegend=False,
                  **layout_axes)

fig.write_html("out.html")
